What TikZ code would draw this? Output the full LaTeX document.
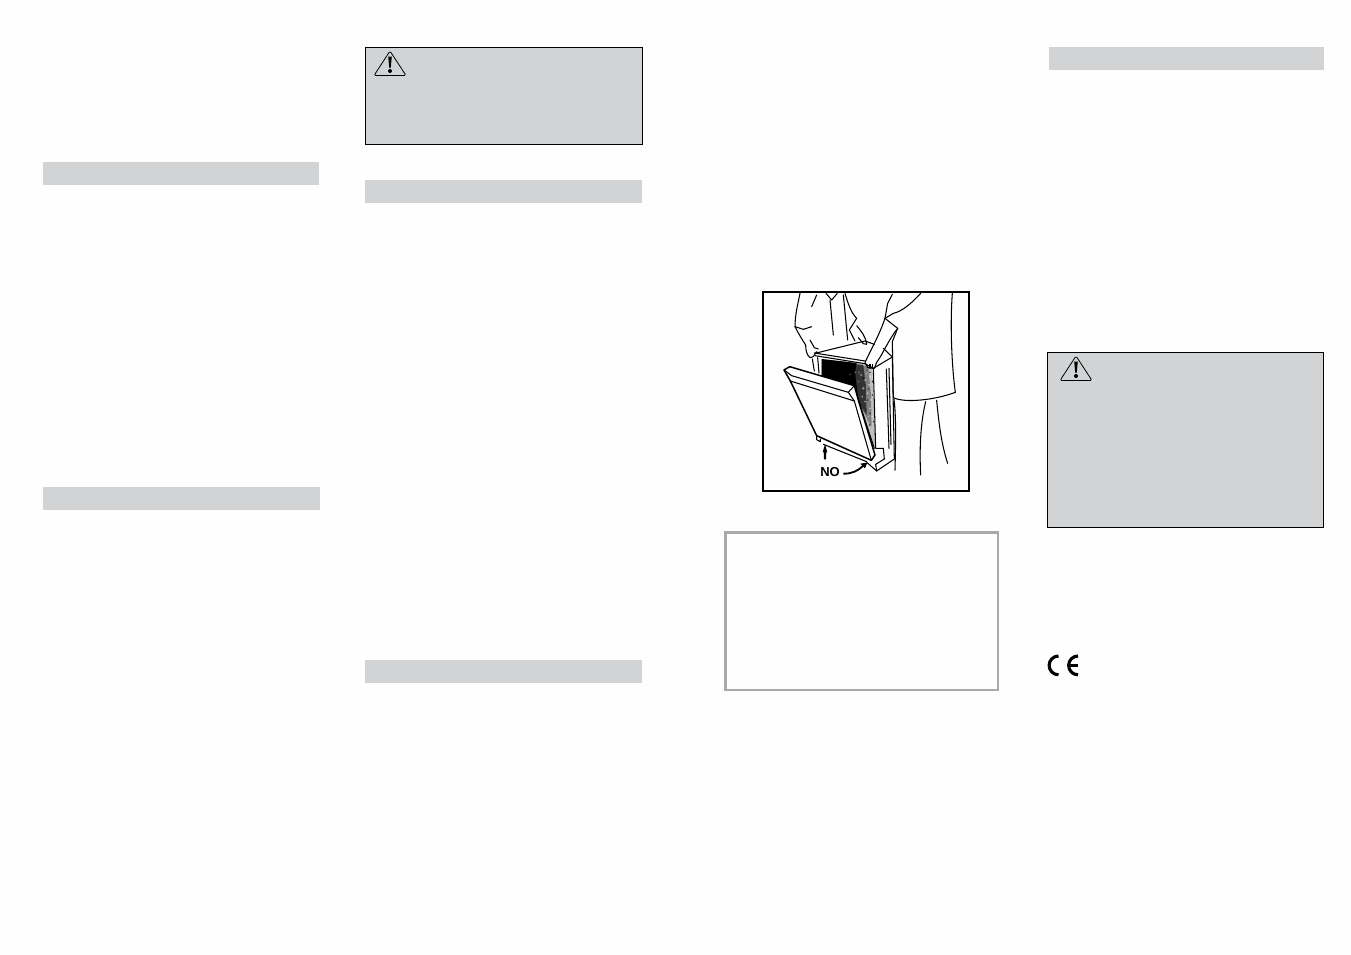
\documentclass[tikz,border=0pt]{standalone}
\usepackage{fontspec}
\setmainfont{Liberation Sans}
\definecolor{band}{HTML}{D1D3D4}
\definecolor{pagebg}{HTML}{FEFEFE}
\definecolor{frameg}{HTML}{A7A9AC}
\tikzset{
  bandbox/.style={fill=band,draw=none},
  warnbox/.style={fill=band,draw=black,line width=0.7pt},
  ink/.style={draw=black,line width=1.05pt,line cap=round,line join=round,fill=none},
  thick ink/.style={ink,line width=1.5pt},
  warntri/.pic={
    \draw[black,line width=0.8pt,line join=round,fill=band,rounded corners=1.5pt] (16,-1) -- (32,23.5) -- (0,23.5) -- cycle;
    \fill[black] (14.2,4.5) -- (17.8,4.5) -- (16.8,15.5) -- (15.2,15.5) -- cycle;
    \fill[black] (16,19) circle (2);
  }
}
\begin{document}
\begin{tikzpicture}[x=1pt,y=-1pt]
\useasboundingbox (0,0) rectangle (1351,954);
\fill[pagebg] (0,0) rectangle (1351,954);
% grey title bands
\fill[bandbox] (43,162) rectangle (319,185);
\fill[bandbox] (43,487) rectangle (320,510);
\fill[bandbox] (365,180) rectangle (642,203);
\fill[bandbox] (365,660) rectangle (642,683);
\fill[bandbox] (1049,47) rectangle (1324,70);
% warning boxes
\path[warnbox] (365.5,47.5) rectangle (642.5,144.5);
\path[warnbox] (1047.5,352.5) rectangle (1323.5,527.5);
\pic at (374,52) {warntri};
\pic at (1060,357) {warntri};
% empty framed box
\draw[frameg,line width=2.4pt] (725.5,532.5) rectangle (998,690);
% illustration
\draw[black,line width=2.4pt] (763,292) rectangle (969,491);
\begin{scope}[shift={(755,285)},x=0.3333pt,y=-0.3333pt]
  % dark cavity
  \fill[black!25] (200,222) -- (330,236) -- (352,252) -- (362,490) -- (352,470) -- (305,345) -- (290,300) -- (200,272) -- cycle;
  \fill[black!50] (295,238) -- (340,245) -- (348,330) -- (350,430) -- (320,370) -- (300,300) -- cycle;
  \fill[black!80] (290,236) -- (325,240) -- (332,300) -- (335,390) -- (315,360) -- (300,300) -- cycle;
  \fill[black] (200,222) -- (305,234) -- (300,262) -- (310,345) -- (305,345) -- (290,300) -- (200,272) -- cycle;
  \foreach \px/\py/\pr in {318/270/3,330/285/3,342/300/3,325/310/4,338/325/3,348/345/3,330/350/3,345/370/3,352/395/3,340/395/2,350/425/2,345/300/2,310/290/2,335/265/2,346/275/3,355/320/2,322/335/3,300/262/2,285/268/2,312/262/2}
     \fill[white,opacity=.5] (\px,\py) circle (\pr);
  \foreach \px/\py in {336/255,345/262,352/290,330/300,352/330,338/345,345/385,356/410,325/280,340/312,333/372,343/420}
     \fill[black] (\px,\py) circle (2.2);
  % appliance top
  \path[ink] (180,205) -- (330,168) -- (358,178);
  \path[ink] (180,212) -- (330,236) -- (355,250) -- (412,216) -- (385,190);
  \path[ink] (178,204) -- (330,228);
  % side and plinth
  \path[ink] (355,250) -- (362,490) -- (385,490);
  \path[ink] (412,216) -- (418,522) -- (365,558) -- (335,532);
  \path[ink] (394,252) -- (402,490);
  \path[ink] (402,250) -- (408,478);
  \path[ink] (385,490) -- (388,522) -- (362,538) -- (365,558);
  \path[ink] (172,222) -- (178,258);
  \path[ink] (188,218) -- (192,264);
  % door
  \path[thick ink,fill=pagebg] (87,255) -- (104,245) -- (298,302) -- (310,345) -- (360,510) -- (349,526) -- (185,452) -- (106,288) -- cycle;
  \path[ink] (106,288) -- (298,348) -- (349,526);
  \path[ink] (110,272) -- (280,322) -- (298,348);
  \path[ink] (87,255) -- (110,272);
  \path[ink] (280,322) -- (298,302);
  \path[ink] (310,345) -- (358,490);
  \path[ink] (205,478) -- (335,530);
  \path[ink] (185,452) -- (185,464) -- (196,470) -- (196,462);
  % left person
  \path[ink] (135,25) .. controls (128,60) and (120,90) .. (120,125) .. controls (130,145) and (142,165) .. (152,180);
  \path[ink] (120,125) -- (145,133) -- (170,125);
  \path[ink] (185,30) -- (170,65);
  \path[ink] (152,180) .. controls (152,195) and (155,210) .. (165,218) -- (175,215) -- (185,200);
  \path[ink] (165,165) -- (178,188) -- (190,192);
  \path[ink] (213,25) -- (230,45) -- (247,25);
  \path[ink] (225,45) -- (235,150);
  \path[ink] (265,30) -- (278,165);
  \path[ink] (270,25) .. controls (280,60) and (290,85) .. (305,100);
  \path[ink] (305,100) -- (283,135) -- (300,168);
  \path[ink] (305,122) .. controls (320,140) and (332,155) .. (335,178) -- (325,176) -- (310,158);
  % right person
  \path[ink] (497,25) .. controls (470,55) and (440,80) .. (415,85) -- (390,100);
  \path[ink] (412,28) -- (398,55) -- (390,100);
  \path[ink] (390,100) -- (428,130);
  \path[ink] (390,100) .. controls (375,145) and (350,190) .. (335,222);
  \path[ink] (428,130) .. controls (400,165) and (385,205) .. (365,232) -- (358,250) -- (338,248) -- (330,232) -- (335,222);
  \path[ink] (345,238) -- (345,250);
  \path[ink] (352,238) -- (352,250);
  \path[ink] (428,130) -- (412,170) -- (415,338);
  \path[ink] (415,338) .. controls (450,355) and (540,345) .. (601,322);
  \path[ink] (592,25) .. controls (585,120) and (590,240) .. (601,322);
  \path[ink] (512,350) .. controls (500,400) and (492,470) .. (497,570);
  \path[ink] (417,342) .. controls (424,400) and (422,480) .. (420,555);
  \path[ink] (545,346) .. controls (552,420) and (560,480) .. (578,535);
  % NO with arrows
  \node[inner sep=0pt,font=\bfseries\fontsize{13}{13}\selectfont] (nolabel) at (225,561) {NO};
  \coordinate (arrowa) at (210,478);
  \coordinate (arrowb) at (337,533);
  \fill[black] (arrowa) -- (217,502) -- (214,500) -- (213,523) -- (207,523) -- (206,500) -- (203,502) -- cycle;
  \draw[line width=1.8pt] (nolabel.east)++(10,5) .. controls (290,567) and (310,557) .. (325,542);
  \fill[black] (arrowb) -- (330,550) -- (316,536) -- cycle;
\end{scope}
% CE mark
\draw[black,line width=3.1pt] (1058.5,656) arc[start angle=270,end angle=90,radius=9.4];
\draw[black,line width=3.1pt] (1078,656) arc[start angle=270,end angle=90,radius=9.4];
\draw[black,line width=2.6pt] (1068,665.4) -- (1078,665.4);
\end{tikzpicture}
\end{document}
